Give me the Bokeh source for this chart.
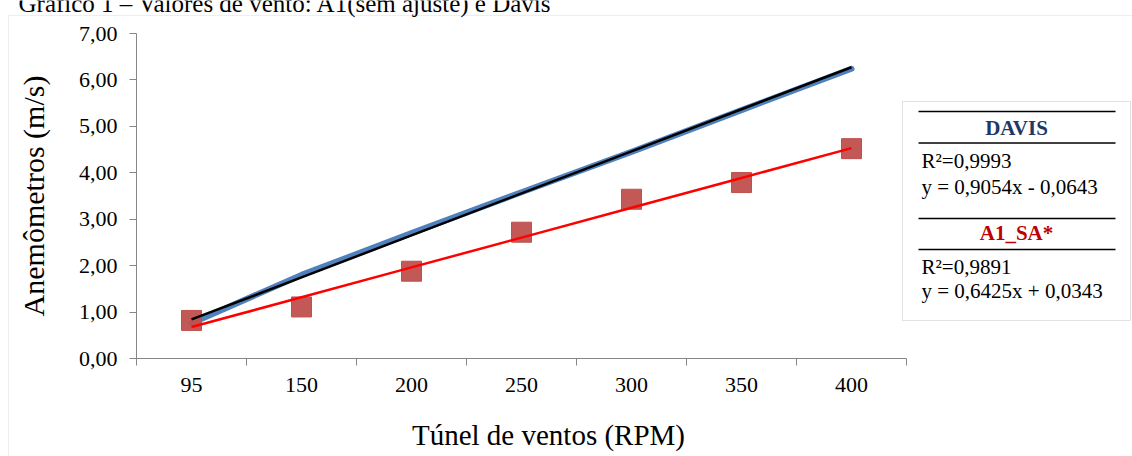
from bokeh.plotting import figure
from bokeh.models import FixedTicker, CustomJSTickFormatter, Label, BoxAnnotation, Range1d
from bokeh.embed import file_html
from bokeh.resources import INLINE

# ---- data ----
rpm_labels = ["95", "150", "200", "250", "300", "350", "400"]
davis = [0.76, 1.80, 2.70, 3.58, 4.45, 5.35, 6.24]
a1_sa = [0.82, 1.11, 1.88, 2.72, 3.43, 3.79, 4.52]
davis_slope, davis_intercept, davis_r2 = 0.9054, -0.0643, 0.9993
a1_slope, a1_intercept, a1_r2 = 0.6425, 0.0343, 0.9891
y_ticks = [0, 1, 2, 3, 4, 5, 6, 7]
title_text = "Gráfico 1 – Valores de vento: A1(sem ajuste) e Davis"
x_title = "Túnel de ventos (RPM)"
y_title = "Anemômetros (m/s)"

FONT = "Liberation Serif"
AXIS_GRAY = "#868686"
W, H = 1132, 456

# plot-area geometry in canvas pixels (layout only)
PL, PR, PT, PB = 136, 906, 33, 358

x = list(range(1, len(rpm_labels) + 1))
davis_trend = [davis_slope * i + davis_intercept for i in x]
a1_trend = [a1_slope * i + a1_intercept for i in x]

x0, x1 = 0.5, len(x) + 0.5
y0, y1 = y_ticks[0], y_ticks[-1]
px_x = (PR - PL) / (x1 - x0)
px_y = (PB - PT) / (y1 - y0)

p = figure(width=W, height=H, output_backend="svg", toolbar_location=None,
           x_range=Range1d(x0 - PL / px_x, x1 + (W - PR) / px_x),
           y_range=Range1d(y0 - (H - PB) / px_y, y1 + PT / px_y),
           min_border=0)
p.outline_line_color = None
p.grid.visible = False
p.background_fill_color = "white"
p.border_fill_color = "white"

# x axis: labels at category centres, tick marks at boundaries
xa = p.xaxis[0]
xa.fixed_location = y0
xa.bounds = (x0, x1)
xa.ticker = FixedTicker(ticks=x, minor_ticks=[i - 0.5 for i in x] + [x[-1] + 0.5])
xa.major_label_overrides = {i: lab for i, lab in zip(x, rpm_labels)}
xa.major_tick_out = 0
xa.major_tick_in = 0
xa.minor_tick_out = 7
xa.minor_tick_in = 0
xa.minor_tick_line_color = AXIS_GRAY
xa.axis_line_color = AXIS_GRAY
xa.major_label_text_font = FONT
xa.major_label_text_font_size = "22px"
xa.major_label_text_color = "black"
xa.major_label_standoff = 12

ya = p.yaxis[0]
ya.fixed_location = x0
ya.bounds = (y0, y1)
ya.ticker = FixedTicker(ticks=y_ticks, minor_ticks=[])
ya.formatter = CustomJSTickFormatter(code="return tick.toFixed(2).replace('.', ',');")
ya.major_tick_out = 7
ya.major_tick_in = 0
ya.major_tick_line_color = AXIS_GRAY
ya.minor_tick_line_color = None
ya.axis_line_color = AXIS_GRAY
ya.major_label_text_font = FONT
ya.major_label_text_font_size = "22px"
ya.major_label_text_color = "black"
ya.major_label_standoff = 12
ya.axis_label = y_title
ya.axis_label_text_font = FONT
ya.axis_label_text_font_size = "30px"
ya.axis_label_text_font_style = "normal"
ya.axis_label_text_color = "black"
ya.axis_label_standoff = 26

# series
p.line(x, davis, line_width=6, line_color="#4F81BD", line_cap="round", line_join="round")
p.scatter(x, a1_sa, marker="square", size=20, fill_color="#C0504D", line_color="#C0504D",
          fill_alpha=0.95)
p.line(x, davis_trend, line_width=2.5, line_color="black")
p.line(x, a1_trend, line_width=2.5, line_color="#FF0000")

# frame equals the canvas: screen units = canvas px with y measured from the bottom
def sy(cy):
    return H - cy

BL = 8  # alphabetic-baseline labels render this much lower; compensate
SCR = dict(left_units="screen", right_units="screen", top_units="screen", bottom_units="screen")

# x-axis title (Excel places it slightly right of the axis centre)
p.add_layout(Label(x=548, y=sy(442 - BL), x_units="screen", y_units="screen", text=x_title,
                   text_font=FONT, text_font_size="29px", text_color="black",
                   text_align="center", text_baseline="alphabetic"))

# outer dotted border and cut-off title
p.add_layout(BoxAnnotation(left=8, right=W + 20, top=sy(15), bottom=sy(H + 20), **SCR,
                           fill_alpha=0, line_color="#8c8c8c", line_dash="1 1", line_width=1))
p.add_layout(Label(x=18, y=sy(11 - BL), x_units="screen", y_units="screen", text=title_text,
                   text_font=FONT, text_font_size="25px", text_color="black",
                   text_baseline="alphabetic", text_align="left"))

# legend box
p.add_layout(BoxAnnotation(left=902, right=1130, top=sy(101), bottom=sy(320), **SCR,
                           fill_color="white", fill_alpha=1, line_color="#404040", line_dash="1 1", line_width=1))
for ly in [111, 142.5, 218, 249]:
    p.add_layout(BoxAnnotation(left=918, right=1115, top=sy(ly - 0.75), bottom=sy(ly + 0.75), **SCR,
                               fill_color="black", fill_alpha=1, line_color=None))

def eq(slope, intercept):
    sign = "+" if intercept >= 0 else "-"
    return f"y = {slope:.4f}x {sign} {abs(intercept):.4f}".replace(".", ",")

def r2(v):
    return f"R²={v:.4f}".replace(".", ",")

blocks = [("DAVIS", "#1F3864", 127, davis_r2, davis_slope, davis_intercept, 168, 194),
          ("A1_SA*", "#C00000", 232, a1_r2, a1_slope, a1_intercept, 274, 298)]
for name, col, cy, rr, s, b, yl1, yl2 in blocks:
    p.add_layout(Label(x=1016, y=sy(cy), x_units="screen", y_units="screen", text=name,
                       text_font=FONT, text_font_size="21px", text_font_style="bold", text_color=col,
                       text_align="center", text_baseline="middle"))
    p.add_layout(Label(x=921, y=sy(yl1 - BL), x_units="screen", y_units="screen", text=r2(rr),
                       text_font=FONT, text_font_size="21px", text_color="black",
                       text_align="left", text_baseline="alphabetic"))
    p.add_layout(Label(x=921, y=sy(yl2 - BL), x_units="screen", y_units="screen", text=eq(s, b),
                       text_font=FONT, text_font_size="21px", text_color="black",
                       text_align="left", text_baseline="alphabetic"))

open("out.html", "w").write(file_html(p, INLINE))
